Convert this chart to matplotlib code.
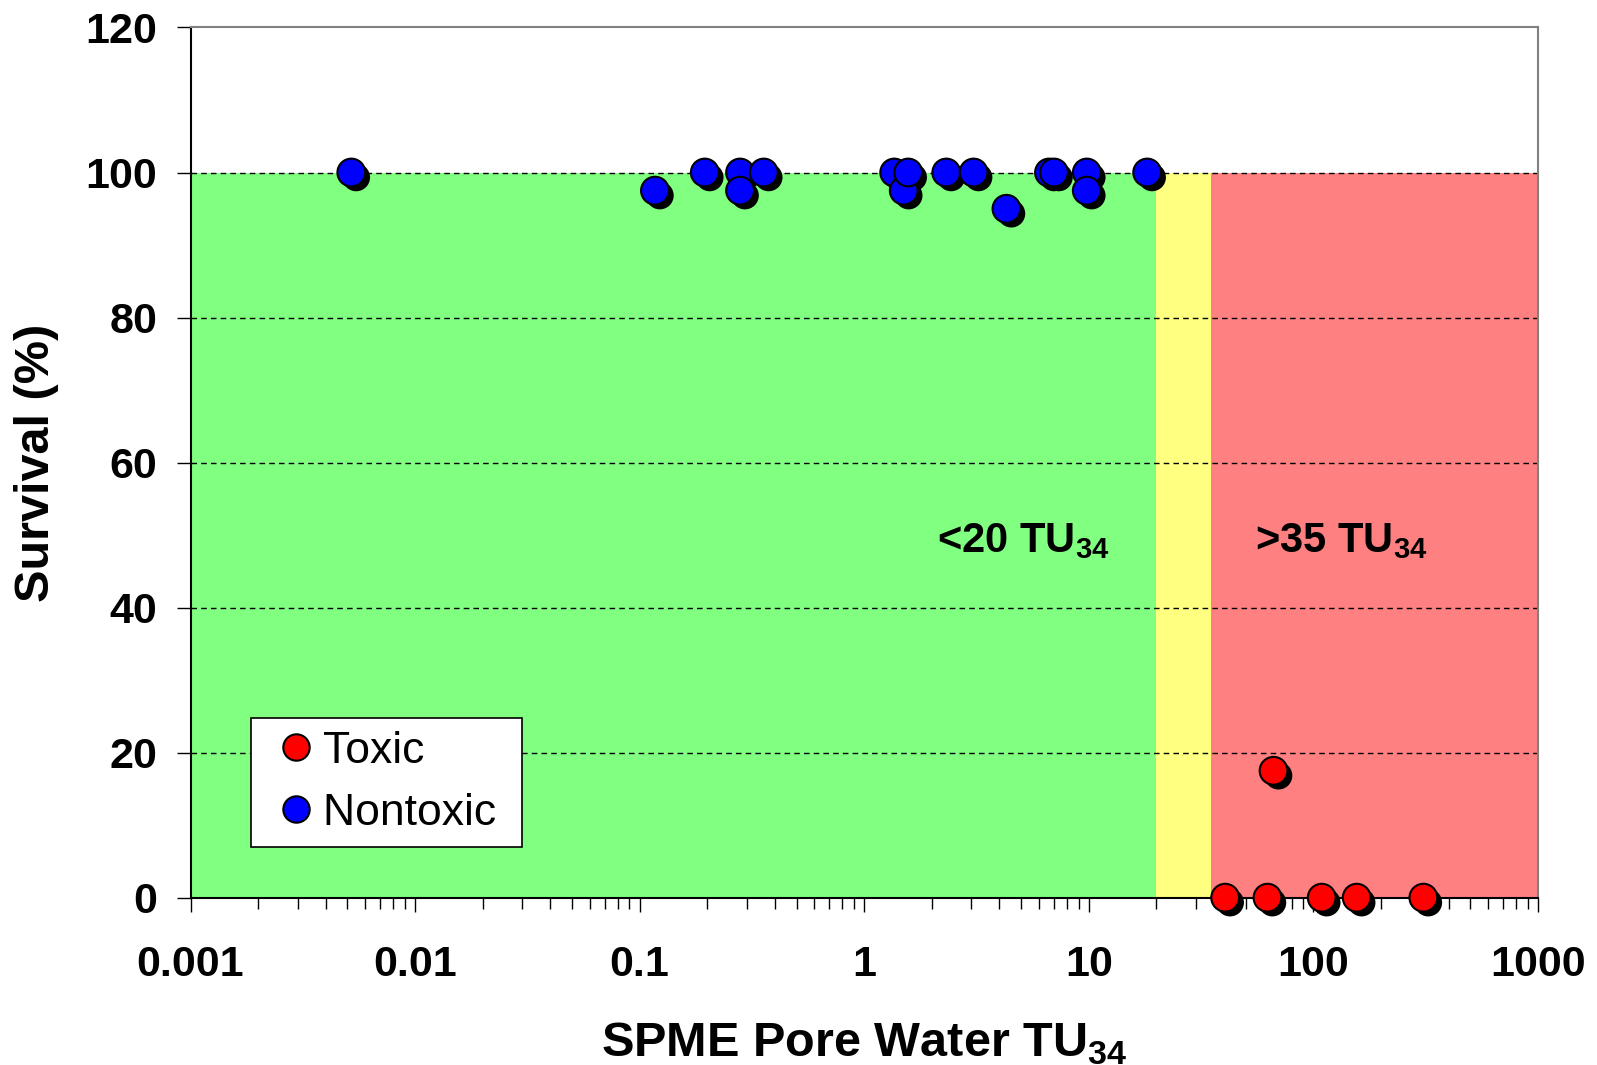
# Survival vs SPME pore water toxic units (log x axis)

import matplotlib.pyplot as plt
import matplotlib.patheffects as pe
from matplotlib.lines import Line2D
from matplotlib.ticker import FixedLocator, LogLocator, NullFormatter

plt.rcParams['font.family'] = ['Liberation Sans', 'DejaVu Sans']
plt.rcParams['mathtext.fontset'] = 'custom'
plt.rcParams['mathtext.rm'] = 'Liberation Sans'
plt.rcParams['mathtext.bf'] = 'Liberation Sans:bold'

# Data
nontoxic_tu = [0.0052, 0.117, 0.195, 0.28, 0.28, 0.357, 1.36, 1.5, 1.57,
               2.32, 3.07, 4.3, 6.65, 7.0, 9.8, 9.8, 18.2]
nontoxic_surv = [100, 97.5, 100, 100, 97.5, 100, 100, 97.5, 100,
                 100, 100, 95, 100, 100, 100, 97.5, 100]
toxic_tu = [66.5, 40.5, 62.5, 109, 156, 309]
toxic_surv = [17.5, 0, 0, 0, 0, 0]

# zones
zone_edges = [0.001, 20, 35, 1000]
zone_colors = ['#80FF80', '#FFFF80', '#FF8080']

xticks = [0.001, 0.01, 0.1, 1, 10, 100, 1000]
xtick_labels = ['0.001', '0.01', '0.1', '1', '10', '100', '1000']
yticks = [0, 20, 40, 60, 80, 100, 120]

fig = plt.figure(figsize=(15.97, 10.65), dpi=100)
ax = fig.add_axes([0.1193, 0.1571, 0.963 - 0.1193, 0.9742 - 0.1571])

ax.set_xscale('log')
ax.set_xlim(0.001, 1000)
ax.set_ylim(0, 120)

for i, c in enumerate(zone_colors):
    ax.fill_between([zone_edges[i], zone_edges[i + 1]], 0, 100, color=c, lw=0, zorder=0)

# dashed grid lines
for y in yticks[1:-1]:
    ax.axhline(y, color='black', ls=(0, (4, 3)), lw=1, zorder=1)

shadow = [pe.SimplePatchShadow(offset=(3.5, -3.5), shadow_rgbFace='black', alpha=1), pe.Normal()]
ax.scatter(toxic_tu, toxic_surv, s=20 ** 2, c='red', edgecolors='black', linewidths=1.5,
           zorder=5, clip_on=False, path_effects=shadow)
ax.scatter(nontoxic_tu, nontoxic_surv, s=20 ** 2, c='blue', edgecolors='black', linewidths=1.5,
           zorder=5, clip_on=False, path_effects=shadow)

ax.text(12.4, 47.7, '<20 TU$_{\\mathbf{34}}$', fontsize=30, fontweight='bold', ha='right', va='baseline')
ax.text(54.8, 47.7, '>35 TU$_{\\mathbf{34}}$', fontsize=30, fontweight='bold', ha='left', va='baseline')

# axes styling
for s in ax.spines.values():
    s.set_color('#808080')
    s.set_linewidth(1.5)
ax.spines['bottom'].set_color('black')
ax.spines['left'].set_color('black')

ax.xaxis.set_major_locator(FixedLocator(xticks))
ax.set_xticklabels(xtick_labels)
ax.xaxis.set_minor_locator(LogLocator(base=10, subs=range(2, 10)))
ax.xaxis.set_minor_formatter(NullFormatter())
ax.set_yticks(yticks)

ax.tick_params(axis='both', which='major', direction='out', labelsize=31, width=1, length=10)
ax.tick_params(axis='x', which='major', pad=24)
ax.tick_params(axis='x', which='minor', length=8, width=1)
ax.tick_params(axis='y', which='major', pad=14)
for lbl in ax.get_xticklabels() + ax.get_yticklabels():
    lbl.set_fontweight('bold')

ax.set_ylabel('Survival (%)', fontsize=35, fontweight='bold', labelpad=19)
ax.set_xlabel('SPME Pore Water TU$_{\\mathbf{34}}$', fontsize=35, fontweight='bold', labelpad=26)

handles = [Line2D([], [], ls='none', marker='o', ms=19, mfc='red', mec='black', mew=1.5),
           Line2D([], [], ls='none', marker='o', ms=19, mfc='blue', mec='black', mew=1.5)]
leg = ax.legend(handles, ['Toxic', 'Nontoxic '], loc='lower left', bbox_to_anchor=(0.045, 0.058),
                fontsize=32, frameon=True, fancybox=False, framealpha=1, edgecolor='black',
                handletextpad=-0.12, handlelength=1.44, borderpad=0.3, labelspacing=0.47,
                borderaxespad=0)
leg.get_frame().set_linewidth(1.2)

fig.savefig('out.png', dpi=100)
